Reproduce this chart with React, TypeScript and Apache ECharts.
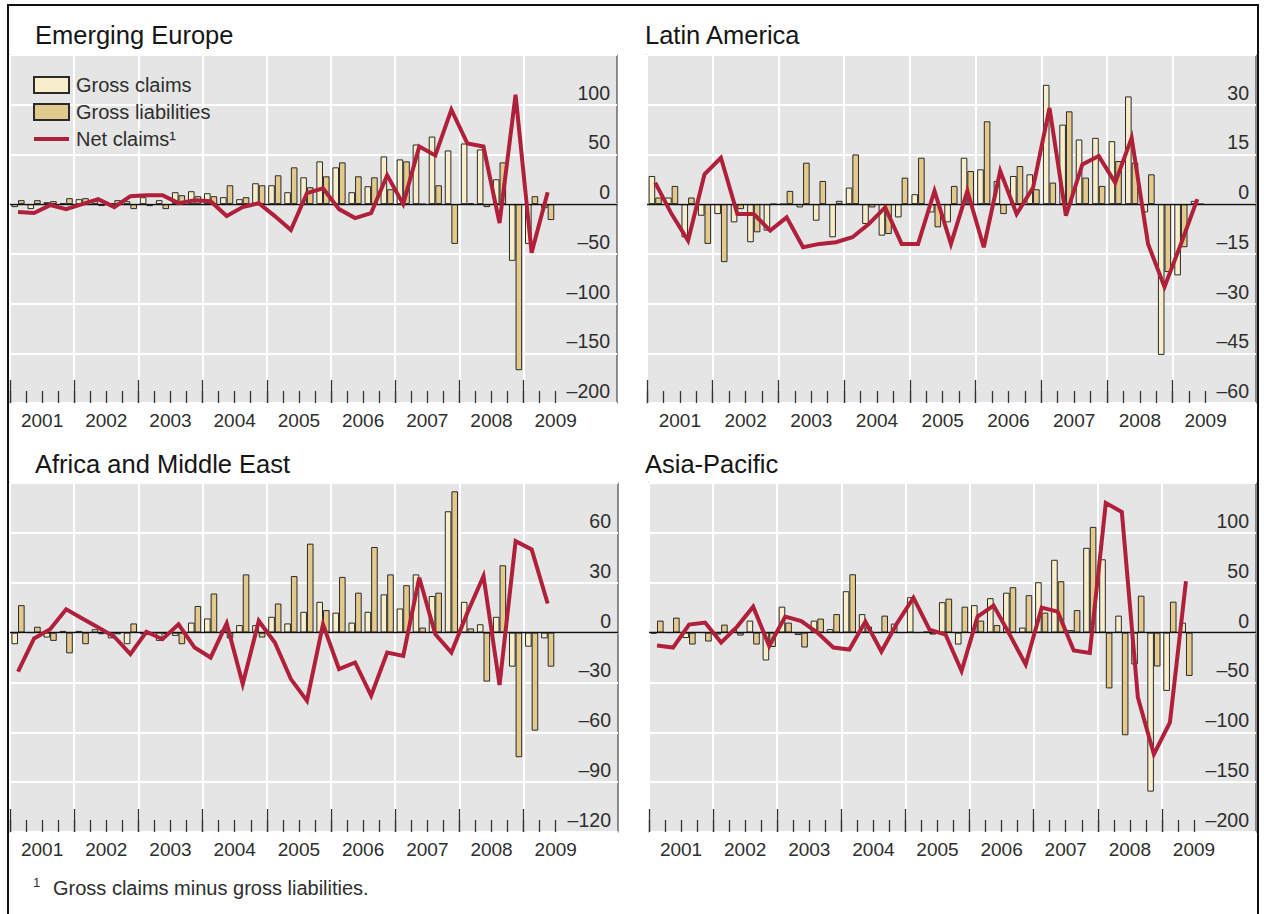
import React, { useEffect, useRef } from "react";
import * as echarts from "echarts";

// Quarterly observations, 2001 Q1 – 2009 Q2 (34 quarters)
const years = ["2001", "2002", "2003", "2004", "2005", "2006", "2007", "2008", "2009"];
const titles = ["Emerging Europe", "Latin America", "Africa and Middle East", "Asia-Pacific"];

const eeClaims = [-3, -5, 2, 1, 5, 3, 1, 3, 7, 4, 12, 13, 11, 7, 5, 21, 19, 12, 27, 43, 37, 12, 18, 48, 45, 60, 68, 54, 61, 55, 25, -57, -40, -4];
const eeLiab = [4, 4, 3, 6, 6, -2, 4, -5, -2, -5, 9, 8, 8, 19, 7, 19, 29, 37, 17, 28, 42, 28, 27, 15, 43, 0, 19, -40, 1, -3, 42, -167, 8, -16];
const eeNet = [-8, -9, -1, -5, 0, 5, -3, 8, 9, 9, 1, 4, 3, -12, -3, 1, -12, -26, 11, 16, -5, -14, -9, 29, 0, 58, 49, 95, 61, 58, -19, 110, -49, 12];

const laClaims = [8.5, 2, -10, -3.5, -3, -5.5, -11.5, -8, 0, -1, -5, -10, 5, -6, -9.5, -4, 3, -2.5, -5.5, 14, 10.5, 7, 8.5, 9, 36, 24, 19.5, 20, 19, 32.5, -2.5, -45.5, -21.5, 1];
const laLiab = [2, 5.5, 2, -12, -17.5, -1.5, -8.5, 0, 4, 12.5, 7, 1, 15, -1, -9, 8, 14, -7, 5.5, 10, 25, -3, 11.5, 4.5, 6.5, 28, 8, 5.5, 13, 12.5, 9, -20.5, -13, 0];
const laNet = [6.5, -3, -11, 9, 14, -3, -3, -8, -4, -13, -12, -11.5, -10, -6, -1, -12, -12, 4, -12, 4, -13, 10, -3, 5, 29, -3.5, 12, 14.5, 6.5, 20, -12, -25, -12, 1.5];

const ameClaims = [-7, 0, -3, 1, 1, 2, -3.5, -7, -1, -5, -2, 6, 8.5, 1.5, 4.5, 4.5, 9.5, 5.5, 12.5, 18.5, 12, 6, 12.5, 23, 14.5, 35, 22, 73, 18.5, 5, 9.5, -20.5, -8.5, -3.5];
const ameLiab = [16.5, 3.5, -5, -12.5, -7, -1, -1, 5.5, -1.5, -1, -7, 16, 23.5, -3.5, 35, -3, 17.5, 34, 53.5, 13.5, 33.5, 24, 51.5, 35, 28.5, 3, 24, 85, 2.5, -29.5, 40.5, -75, -59, -20.5];
const ameNet = [-23.5, -3.5, 2, 14, 8.5, 3, -2.5, -13, 0.5, -4, 5, -9, -15, 5.5, -31, 7, -6, -28, -41, 5, -22, -18, -38, -12, -14, 33, -1, -12, 12, 34, -31.5, 55, 50, 17.5];

const apClaims = [-1, 0, -5.5, 0, -2, 3, 12, -28, 26, -2.5, 12, 3.5, 41.5, 18.5, 0, 9, 35.5, 1, 30.5, -12, 27.5, 34.5, 40, 5, 50.5, 73, 2.5, 85, 73.5, 17, -32, -159.5, -58.5, 10];
const apLiab = [12, 15, -12, -9, 8, -3, -12, -14.5, 10, -15, 14, 18.5, 58.5, 6, 17, 0, 0, -2, 34, 26, 12, 7.5, 45.5, 37.5, 20, 51.5, 22.5, 106, -56, -103, 37, -34, 31, -43.5];
const apNet = [-13, -15, 8, 10, -10, 6, 26, -13.5, 16, 11.5, 0, -15, -17, 11, -19, 10, 35, 3, -2, -38.5, 16, 27, -2, -32, 25, 21, -18, -20.5, 130, 121, -65, -122, -90, 51.5];

const claimsSets = [eeClaims, laClaims, ameClaims, apClaims];
const liabSets = [eeLiab, laLiab, ameLiab, apLiab];
const netSets = [eeNet, laNet, ameNet, apNet];

// y-axis scales (min, max, step)
const yMins = [-200, -60, -120, -200];
const yMaxs = [150, 45, 90, 150];
const ySteps = [50, 15, 30, 50];

// layout (pixels) — kept apart from the data
const layouts = [
  { left: 10, top: 55, width: 607, height: 348, xMax: 37.82, titleLeft: 35, titleTop: 22 },
  { left: 647, top: 55, width: 609, height: 348, xMax: 37.07, titleLeft: 645, titleTop: 22 },
  { left: 10, top: 483, width: 608, height: 349, xMax: 37.88, titleLeft: 35, titleTop: 451 },
  { left: 649, top: 483, width: 607, height: 349, xMax: 37.87, titleLeft: 645, titleTop: 451 },
];

const FONT = "'Liberation Sans', Arial, Helvetica, sans-serif";
const CLAIM_COLOR = "#f8eecb";
const LIAB_COLOR = "#e3c98b";
const NET_COLOR = "#b0203a";
const TEXT = "#2e2e2e";

const nQ = eeNet.length;
const quarterTicks = Array.from({ length: nQ + 1 }, (_, i) => i);
const yearTicks = years.map((_, i) => i * 4);
const yearLabelPos = years.map((_, i) => i * 4 + 2);

const fmtY = (v: number) => (v < 0 ? "\u2013" + Math.abs(v) : String(v));

function baseX(p: number, xMax: number) {
  return {
    type: "value",
    gridIndex: p,
    min: 0,
    max: xMax,
    position: "bottom",
    offset: 0,
    axisLine: { show: false },
    splitLine: { show: false },
  };
}

function buildOption() {
  const xAxis: any[] = [];
  const yAxis: any[] = [];
  const series: any[] = [];
  layouts.forEach((l, p) => {
    // labels (and data axis)
    xAxis.push({
      ...baseX(p, l.xMax),
      axisTick: { show: false },
      axisLabel: {
        show: true,
        customValues: yearLabelPos,
        formatter: (v: number) => years[Math.round((v - 2) / 4)] ?? "",
        fontSize: 19,
        color: TEXT,
        fontFamily: FONT,
        margin: 8,
      },
    });
    // quarter ticks
    xAxis.push({
      ...baseX(p, l.xMax),
      axisTick: {
        show: true,
        inside: true,
        length: 12,
        customValues: quarterTicks,
        lineStyle: { color: "#333", width: 1.3 },
      },
      axisLabel: { show: false },
    });
    // year ticks + vertical grid lines
    xAxis.push({
      ...baseX(p, l.xMax),
      axisTick: {
        show: true,
        inside: true,
        length: 23,
        customValues: yearTicks,
        lineStyle: { color: "#333", width: 1.3 },
      },
      axisLabel: { show: false },
      splitLine: { show: true, lineStyle: { color: "#ffffff", width: 2 } },
    });
    yAxis.push({
      type: "value",
      gridIndex: p,
      min: yMins[p],
      max: yMaxs[p],
      interval: ySteps[p],
      position: "right",
      axisLine: { show: false },
      axisTick: { show: false },
      axisLabel: {
        inside: true,
        margin: 7,
        verticalAlign: "bottom",
        showMaxLabel: false,
        formatter: fmtY,
        fontSize: 19.5,
        color: TEXT,
        fontFamily: FONT,
        padding: [0, 0, 2, 0],
      },
      splitLine: { show: true, lineStyle: { color: "#ffffff", width: 2 } },
    });
    series.push({
      name: "Gross claims",
      type: "bar",
      xAxisIndex: p * 3,
      yAxisIndex: p,
      barWidth: 6.6,
      barGap: "0%",
      data: claimsSets[p].map((v, i) => [i + 0.5, v]),
      itemStyle: { color: CLAIM_COLOR, borderColor: "#2a2a2a", borderWidth: 1 },
      z: 2,
    });
    series.push({
      name: "Gross liabilities",
      type: "bar",
      xAxisIndex: p * 3,
      yAxisIndex: p,
      barWidth: 6.6,
      barGap: "0%",
      data: liabSets[p].map((v, i) => [i + 0.5, v]),
      itemStyle: { color: LIAB_COLOR, borderColor: "#2a2a2a", borderWidth: 1 },
      z: 2,
      markLine: {
        silent: true,
        symbol: ["none", "none"],
        label: { show: false },
        lineStyle: { color: "#111", width: 1.3, type: "solid" },
        data: [{ yAxis: 0 }],
      },
    });
    series.push({
      name: "Net claims\u00b9",
      type: "line",
      xAxisIndex: p * 3,
      yAxisIndex: p,
      symbol: "none",
      showSymbol: false,
      data: netSets[p].map((v, i) => [i + 0.5, v]),
      lineStyle: { color: NET_COLOR, width: 4, join: "miter" },
      itemStyle: { color: NET_COLOR },
      z: 5,
    });
  });

  return {
    animation: false,
    backgroundColor: "#ffffff",
    textStyle: { fontFamily: FONT },
    title: layouts.map((l, p) => ({
      text: titles[p],
      left: l.titleLeft,
      top: l.titleTop,
      padding: 0,
      textStyle: { fontSize: 25.5, fontWeight: "normal", color: "#161616", fontFamily: FONT },
    })),
    legend: {
      orient: "vertical",
      left: 33,
      top: 75,
      itemWidth: 35,
      itemHeight: 16,
      itemGap: 7,
      padding: 0,
      selectedMode: false,
      data: [
        { name: "Gross claims", icon: "rect" },
        { name: "Gross liabilities", icon: "rect" },
        {
          name: "Net claims\u00b9",
          icon: "path://M0,0 L35,0 L35,4 L0,4 Z",
          itemStyle: { color: NET_COLOR, borderWidth: 0 },
        },
      ],
      textStyle: { fontSize: 20, color: TEXT, fontFamily: FONT, padding: [0, 0, 0, 2] },
    },
    grid: layouts.map((l) => ({
      left: l.left,
      top: l.top,
      width: l.width,
      height: l.height,
      show: true,
      backgroundColor: "#e5e5e5",
      borderColor: "#4a4a4a",
      borderWidth: 1.2,
      containLabel: false,
    })),
    xAxis,
    yAxis,
    series,
    graphic: [
      {
        type: "rect",
        shape: { x: 8, y: 5, width: 1250, height: 940 },
        style: { fill: "none", stroke: "#111", lineWidth: 2 },
        silent: true,
        z: 10,
      },
      {
        type: "text",
        left: 33,
        top: 876,
        style: { text: "1", fontSize: 13, fill: TEXT, fontFamily: FONT },
      },
      {
        type: "text",
        left: 53,
        top: 878,
        style: { text: "Gross claims minus gross liabilities.", fontSize: 20, fill: TEXT, fontFamily: FONT },
      },
    ],
  };
}

export default function App() {
  const ref = useRef<HTMLDivElement>(null);
  useEffect(() => {
    if (!ref.current) return;
    const chart = echarts.init(ref.current, undefined, { renderer: "svg" });
    chart.setOption(buildOption() as any);
    return () => chart.dispose();
  }, []);
  return (
    <div
      ref={ref}
      style={{ position: "absolute", left: 0, top: 0, width: 1264, height: 914, background: "#fff" }}
    />
  );
}
